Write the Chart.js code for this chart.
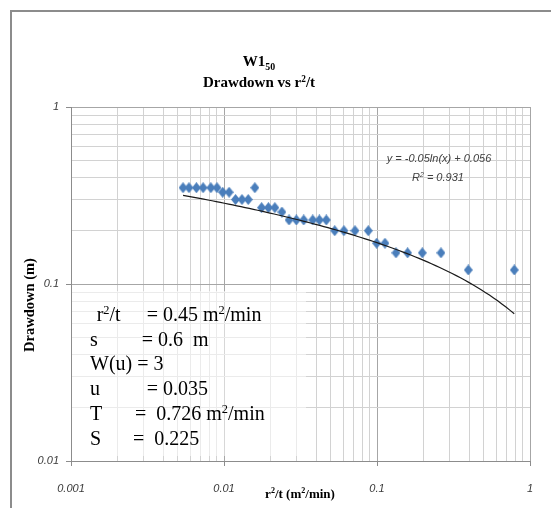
<!DOCTYPE html>
<html>
<head>
<meta charset="utf-8">
<script src="https://cdn.jsdelivr.net/npm/chart.js@4.4.1/dist/chart.umd.min.js"></script>
<style>
  html, body { margin: 0; padding: 0; background: #ffffff; }
  #wrap { width: 551px; height: 508px; position: relative; }
</style>
</head>
<body>
<div id="wrap"><canvas id="chart" width="551" height="508"></canvas></div>
<script>
// Observed drawdown at well W1(50) against r²/t
const ratioValues = [
  0.0054, 0.0059, 0.0066, 0.0073, 0.0082, 0.0090, 0.0098, 0.0108, 0.0119, 0.0131,
  0.0144, 0.0159, 0.0176, 0.0195, 0.0215, 0.0239, 0.0266, 0.0297, 0.0332, 0.0380,
  0.0420, 0.0466, 0.0529, 0.0608, 0.0718, 0.0877, 0.0995, 0.1127, 0.1330, 0.1585,
  0.1977, 0.2618, 0.3950, 0.7890
];
const drawdownValues = [
  0.35, 0.35, 0.35, 0.35, 0.35, 0.35, 0.33, 0.33, 0.30, 0.30,
  0.30, 0.35, 0.27, 0.27, 0.27, 0.255, 0.23, 0.23, 0.23, 0.23,
  0.23, 0.23, 0.20, 0.20, 0.20, 0.20, 0.17, 0.17, 0.15, 0.15,
  0.15, 0.15, 0.12, 0.12
];

// Logarithmic trend line  y = a·ln(x) + b
const trendSlope = -0.05;
const trendIntercept = 0.056;
const trendR2 = '0.931';

// Axis labels
const xTickLabels = ['0.001', '0.01', '0.1', '1'];
const yTickLabels = ['0.01', '0.1', '1'];

// Type-curve match results
const paramNames  = ['r^2/t', 's', 'W(u) = 3', 'u', 'T', 'S'];
const paramValues = ['= 0.45 m^2/min', '= 0.6  m', '', '= 0.035', '=  0.726 m^2/min', '=  0.225'];

const titleLines = ['W1_50', 'Drawdown vs r^2/t'];
const xTitle = 'r^2/t (m^2/min)';
const yTitle = 'Drawdown (m)';

const SERIF = '"Liberation Serif", "Times New Roman", serif';
const SANS = '"Liberation Sans", Arial, sans-serif';

// ---- helpers -------------------------------------------------------------
function splitRich(str) {
  return str.split(/(\^\d+|_\d+)/).filter(p => p.length);
}
function richPart(p, size) {
  if (p[0] === '^') return { t: p.slice(1), fs: size * 0.62, dy: -size * 0.36 };
  if (p[0] === '_') return { t: p.slice(1), fs: size * 0.66, dy: size * 0.24 };
  return { t: p, fs: size, dy: 0 };
}
function richWidth(ctx, str, size, family, weight) {
  let w = 0;
  for (const p of splitRich(str)) {
    const r = richPart(p, size);
    ctx.font = `${weight} ${r.fs}px ${family}`;
    w += ctx.measureText(r.t).width;
  }
  return w;
}
function drawRich(ctx, str, x, y, size, family, weight) {
  let cx = x;
  ctx.textAlign = 'left';
  ctx.textBaseline = 'alphabetic';
  for (const p of splitRich(str)) {
    const r = richPart(p, size);
    ctx.font = `${weight} ${r.fs}px ${family}`;
    ctx.fillText(r.t, cx, y + r.dy);
    cx += ctx.measureText(r.t).width;
  }
}
function drawRichCentered(ctx, str, cx, y, size, family, weight) {
  const w = richWidth(ctx, str, size, family, weight);
  drawRich(ctx, str, cx - w / 2, y, size, family, weight);
}

function decadeTicks(min, max) {
  const out = [];
  const e0 = Math.round(Math.log10(min));
  const e1 = Math.round(Math.log10(max));
  for (let e = e0; e < e1; e++) {
    for (let m = 1; m <= 9; m++) {
      out.push({ value: +(m * Math.pow(10, e)).toPrecision(6), major: m === 1 });
    }
  }
  out.push({ value: max, major: true });
  return out;
}
function isDecade(v) {
  const l = Math.log10(v);
  return Math.abs(l - Math.round(l)) < 1e-9;
}

// Diamond marker
function makeDiamond(w, h, color) {
  const c = document.createElement('canvas');
  c.width = w; c.height = h;
  const g = c.getContext('2d');
  g.fillStyle = color;
  g.beginPath();
  g.moveTo(w / 2, 0); g.lineTo(w, h / 2); g.lineTo(w / 2, h); g.lineTo(0, h / 2);
  g.closePath();
  g.fill();
  return c;
}

// Trend curve sampled between first and last abscissa
const trendPoints = [];
(function () {
  const n = 80;
  const l0 = Math.log(ratioValues[0]);
  const l1 = Math.log(ratioValues[ratioValues.length - 1]);
  for (let i = 0; i <= n; i++) {
    const x = Math.exp(l0 + (l1 - l0) * i / n);
    trendPoints.push({ x, y: trendSlope * Math.log(x) + trendIntercept });
  }
})();

const obsPoints = ratioValues.map((x, i) => ({ x, y: drawdownValues[i] }));

// ---- decorations ---------------------------------------------------------
const decorations = {
  id: 'decorations',
  beforeDraw(chart) {
    const ctx = chart.ctx;
    ctx.save();
    ctx.fillStyle = '#ffffff';
    ctx.fillRect(0, 0, chart.width, chart.height);
    // outer frame
    ctx.strokeStyle = '#8c8c8c';
    ctx.lineWidth = 2;
    ctx.beginPath();
    ctx.moveTo(11, chart.height + 2);
    ctx.lineTo(11, 11);
    ctx.lineTo(chart.width + 2, 11);
    ctx.stroke();
    ctx.restore();
  },
  afterDraw(chart) {
    const ctx = chart.ctx;
    const area = chart.chartArea;
    ctx.save();
    ctx.fillStyle = '#000000';

    // title
    drawRichCentered(ctx, titleLines[0], 259, 66, 15, SERIF, 'bold');
    drawRichCentered(ctx, titleLines[1], 259, 87, 15, SERIF, 'bold');

    // axis titles
    drawRichCentered(ctx, xTitle, 300, 498, 13, SERIF, 'bold');
    ctx.save();
    ctx.translate(34, 305);
    ctx.rotate(-Math.PI / 2);
    drawRichCentered(ctx, yTitle, 0, 0, 14.5, SERIF, 'bold');
    ctx.restore();

    // trend equation
    ctx.fillStyle = '#404040';
    ctx.font = `italic 11px ${SANS}`;
    ctx.textAlign = 'center';
    ctx.fillText(`y = ${trendSlope}ln(x) + ${trendIntercept}`, 439, 162);
    drawRichCentered(ctx, `R^2 = ${trendR2}`, 438, 181, 11, SANS, 'italic');

    // match-point text box
    ctx.fillStyle = 'rgba(255,255,255,0.55)';
    ctx.fillRect(area.left + 1, 291, 234, area.bottom - 291 - 5);
    ctx.fillStyle = '#000000';
    const nameX  = [96.7, 90, 90, 90, 90, 90];
    const valueX = [146.7, 141.7, 0, 146.7, 135, 133];
    const rowBase = 321;
    const rowStep = 24.7;
    paramNames.forEach((name, i) => {
      const y = rowBase + i * rowStep;
      drawRich(ctx, name, nameX[i], y, 20, SERIF, 'normal');
      if (paramValues[i]) drawRich(ctx, paramValues[i], valueX[i], y, 20, SERIF, 'normal');
    });
    ctx.restore();
  }
};

const majorGrid = '#a6a6a6';
const minorGrid = '#d2d2d2';

new Chart(document.getElementById('chart'), {
  type: 'scatter',
  data: {
    datasets: [
      {
        label: 'Log. trend',
        data: trendPoints,
        showLine: true,
        borderColor: '#1a1a1a',
        borderWidth: 1.2,
        pointRadius: 0,
        tension: 0,
        order: 0
      },
      {
        label: 'Drawdown',
        data: obsPoints,
        pointStyle: makeDiamond(9, 11, '#4a7ebb'),
        pointRadius: 5,
        showLine: false,
        order: 1
      }
    ]
  },
  options: {
    responsive: false,
    animation: false,
    devicePixelRatio: 1,
    layout: { padding: { left: 0, right: 21, top: 107, bottom: 0 } },
    plugins: { legend: { display: false }, tooltip: { enabled: false }, title: { display: false } },
    scales: {
      x: {
        type: 'logarithmic',
        position: 'bottom',
        min: 0.001,
        max: 1,
        afterBuildTicks: s => { s.ticks = decadeTicks(0.001, 1); },
        afterFit: s => { s.height = 47; },
        border: { color: '#8c8c8c', width: 1 },
        grid: {
          color: c => (c.tick && c.tick.major ? majorGrid : minorGrid),
          lineWidth: 1,
          tickLength: 5,
          tickColor: c => (c.tick && c.tick.major ? '#8c8c8c' : 'rgba(0,0,0,0)')
        },
        ticks: {
          autoSkip: false,
          maxRotation: 0,
          minRotation: 0,
          padding: 16,
          color: '#3a3a3a',
          font: { family: SANS, size: 11, style: 'italic' },
          callback: v => (isDecade(v) ? xTickLabels[Math.round(Math.log10(v)) + 3] : '')
        }
      },
      y: {
        type: 'logarithmic',
        min: 0.01,
        max: 1,
        afterBuildTicks: s => { s.ticks = decadeTicks(0.01, 1); },
        afterFit: s => { s.width = 71; },
        border: { color: '#8c8c8c', width: 1 },
        grid: {
          color: c => (c.tick && c.tick.major ? majorGrid : minorGrid),
          lineWidth: 1,
          tickLength: 5,
          tickColor: c => (c.tick && c.tick.major ? '#8c8c8c' : 'rgba(0,0,0,0)')
        },
        ticks: {
          autoSkip: false,
          padding: 7,
          color: '#3a3a3a',
          font: { family: SANS, size: 11, style: 'italic' },
          callback: v => (isDecade(v) ? yTickLabels[Math.round(Math.log10(v)) + 2] : '')
        }
      }
    }
  },
  plugins: [decorations]
});
</script>
</body>
</html>
